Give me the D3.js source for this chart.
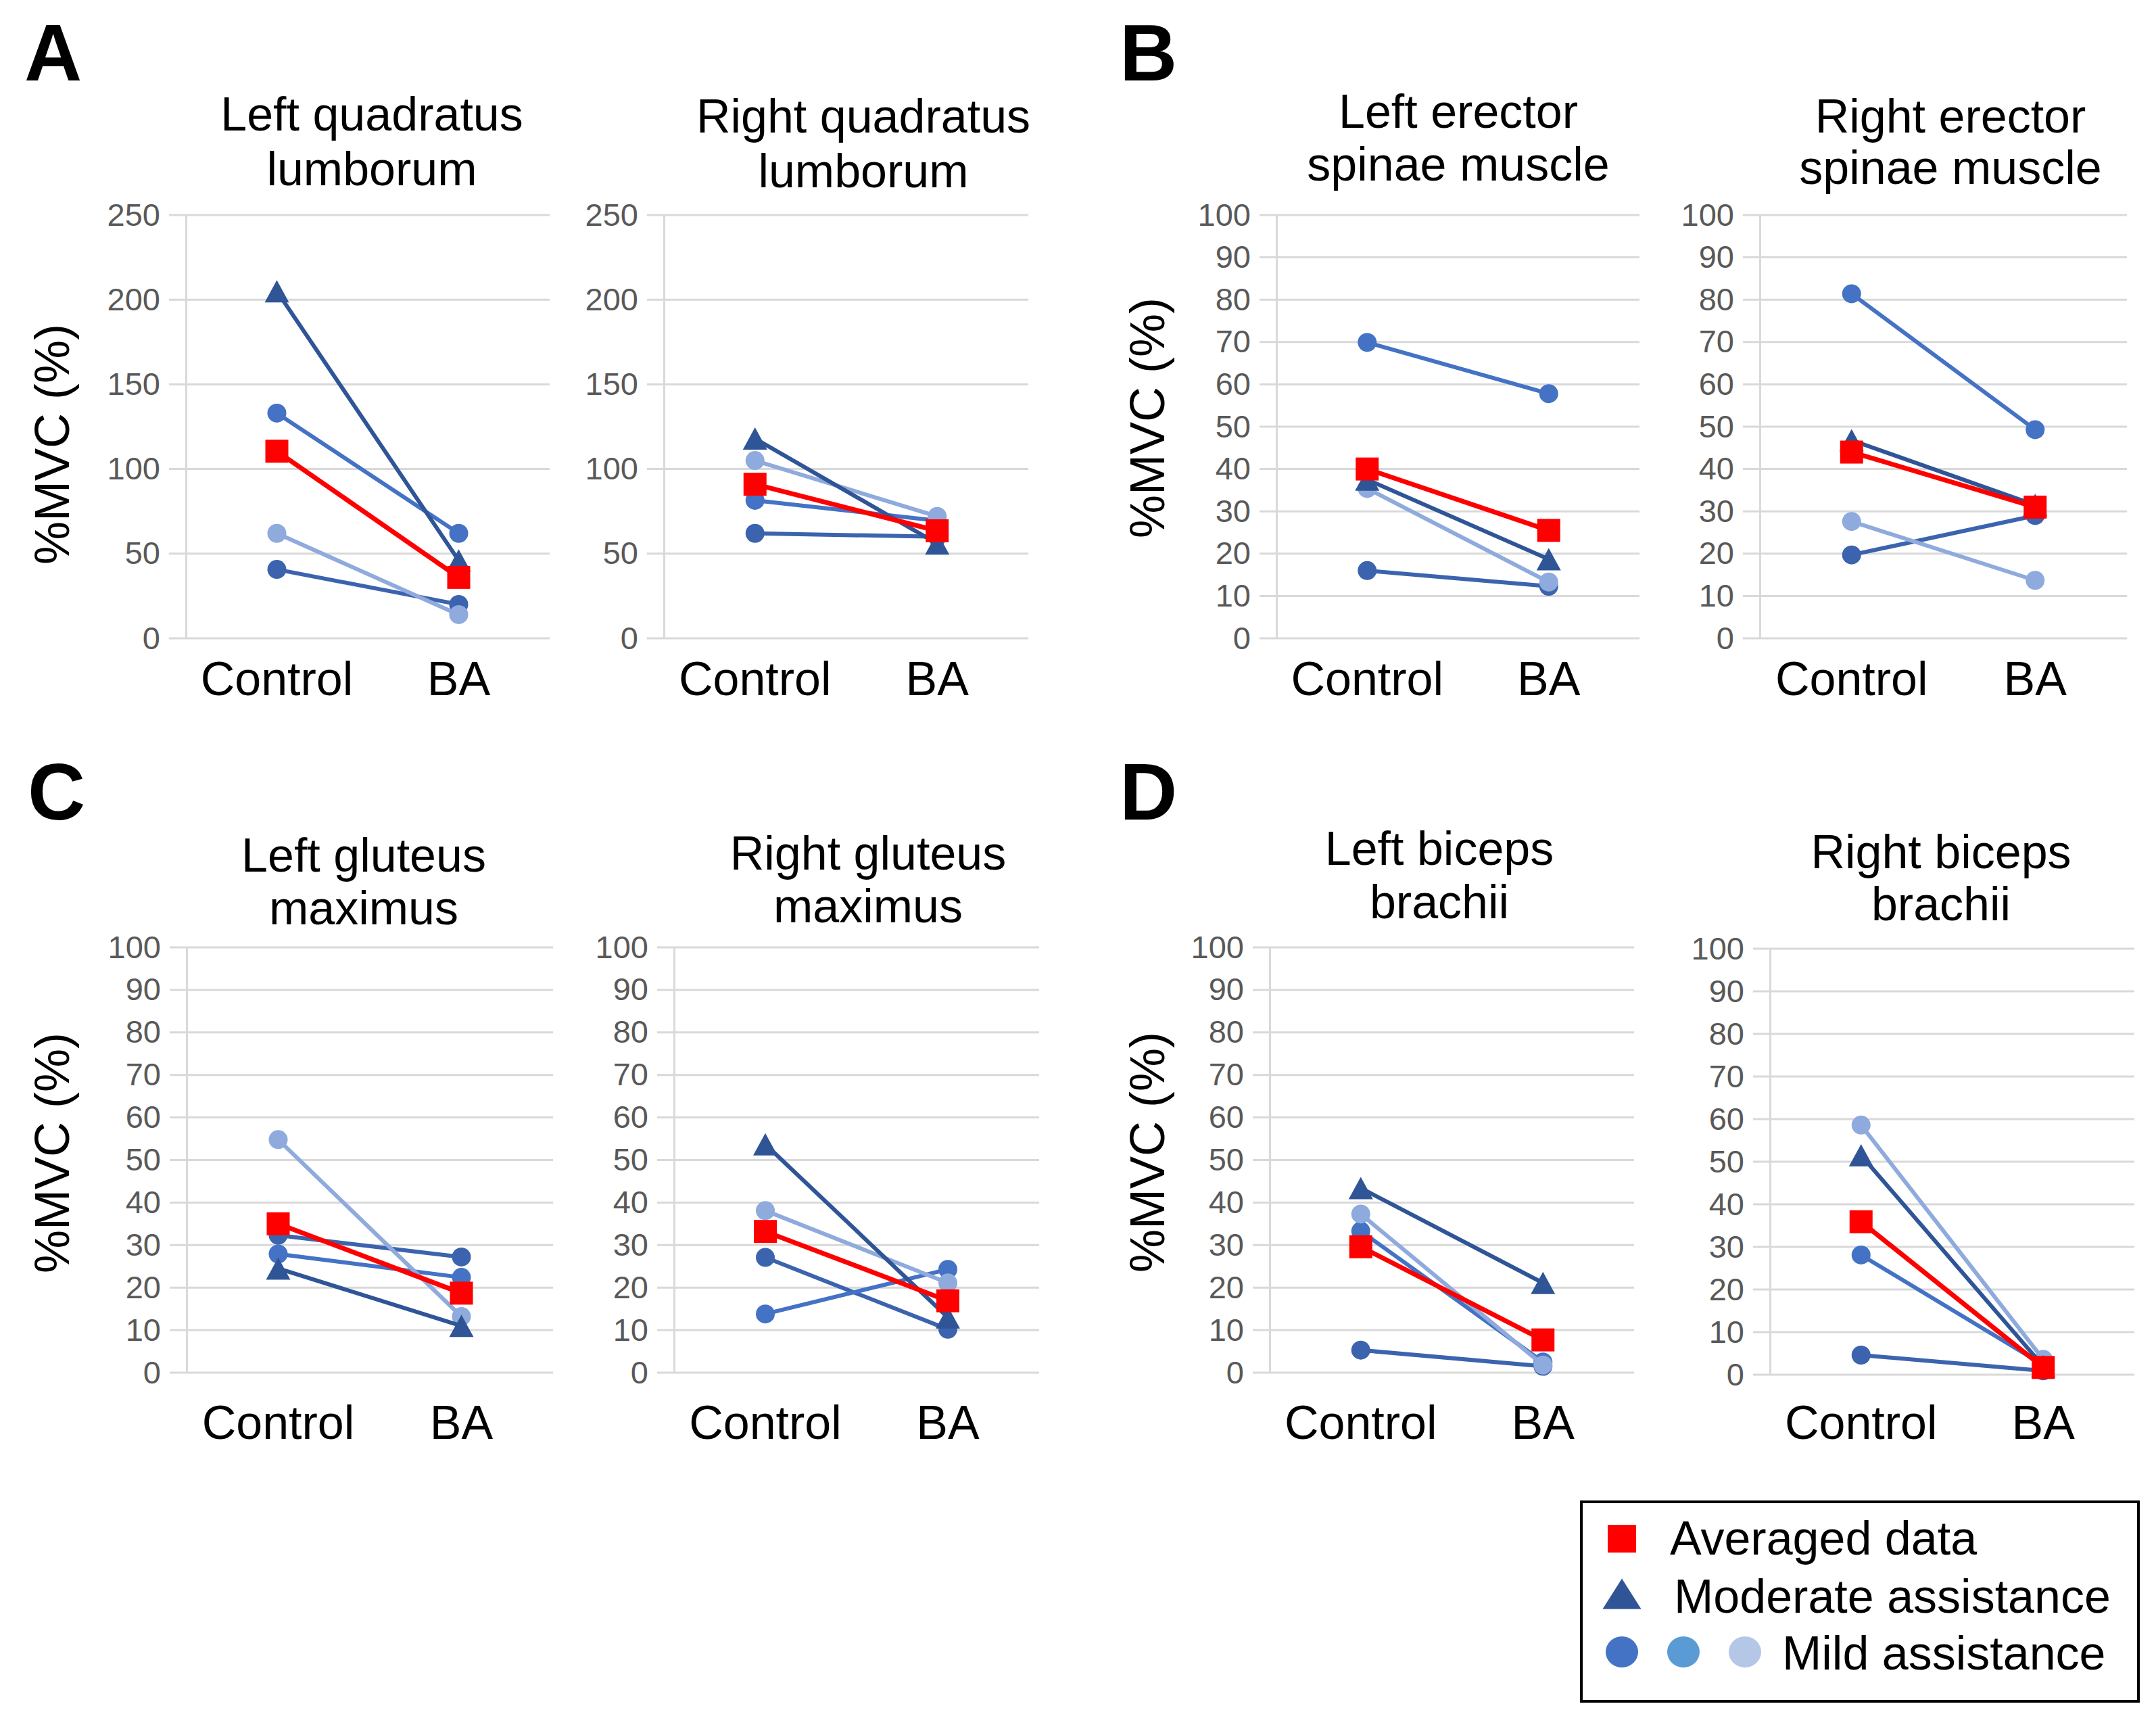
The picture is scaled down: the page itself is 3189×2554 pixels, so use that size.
<!DOCTYPE html>
<html>
<head>
<meta charset="utf-8">
<script src="https://cdnjs.cloudflare.com/ajax/libs/d3/7.8.5/d3.min.js"></script>
<style>
  body { margin: 0; background: #fff; }
  text { font-family: "Liberation Sans", Arial, sans-serif; }
</style>
</head>
<body>
<div id="chart-area"></div>
<script>

// Data (%MVC, Control then BA)
var categories = ["Control", "BA"];
var panelLetters = ["A", "B", "C", "D"];
var titles = [
  ["Left quadratus", "lumborum"], ["Right quadratus", "lumborum"],
  ["Left erector", "spinae muscle"], ["Right erector", "spinae muscle"],
  ["Left gluteus", "maximus"], ["Right gluteus", "maximus"],
  ["Left biceps", "brachii"], ["Right biceps", "brachii"]
];
var yMax = [250, 250, 100, 100, 100, 100, 100, 100];
var yStep = [50, 50, 10, 10, 10, 10, 10, 10];

var averaged  = [[110.5, 36], [91, 63.5], [40, 25.5], [44, 31], [35, 18.7], [33.2, 16.9], [29.6, 7.7], [35.9, 1.7]];
var moderate  = [[205, 46], [118, 56], [37.5, 18.7], [46.8, 31.5], [24.5, 11], [53.7, 13], [43.4, 21.1], [51.5, 2]];
var mildDark  = [[40.7, 20], [62, 60], [16, 12.3], [19.7, 29], [32.3, 27.2], [27.1, 10.2], [5.3, 1.5], [4.6, 0.9]];
var mildMid   = [[133, 62], [81.5, 69.5], [69.9, 57.8], [81.4, 49.3], [27.9, 22.4], [13.8, 24.3], [33.3, 2.5], [28.1, 2.3]];
var mildLight = [[62, 14], [105, 72], [35.4, 13.3], [27.6, 13.7], [54.8, 13.2], [38.1, 21.1], [37.3, 1.8], [58.6, 3.6]];

var legendLabels = ["Averaged data", "Moderate assistance", "Mild assistance"];


// SVG drawing area
var svg = d3.select("#chart-area").append("svg")
    .attr("width", 3189)
    .attr("height", 2554);

svg.append("rect").attr("width", 3189).attr("height", 2554).attr("fill", "#fff");

// plot boxes: left, right, top, bottom, title x, title baselines
var layout = [
  {l: 275,  r: 813,  t: 318,  b: 944,  tx: 550,  ty: [193, 274]},
  {l: 982,  r: 1521, t: 318,  b: 944,  tx: 1277, ty: [196, 277]},
  {l: 1888, r: 2425, t: 318,  b: 944,  tx: 2157, ty: [189, 267]},
  {l: 2603, r: 3146, t: 318,  b: 944,  tx: 2885, ty: [196, 272]},
  {l: 276,  r: 818,  t: 1401, b: 2030, tx: 538,  ty: [1289, 1367]},
  {l: 997,  r: 1537, t: 1401, b: 2030, tx: 1284, ty: [1286, 1364]},
  {l: 1878, r: 2417, t: 1401, b: 2030, tx: 2129, ty: [1279, 1358]},
  {l: 2618, r: 3157, t: 1403, b: 2033, tx: 2871, ty: [1284, 1361]}
];

var letterPos = [[36, 119], [1656, 119], [41, 1212], [1656, 1212]];
var yLabelPos = [[102, 657], [1722, 618], [102, 1705], [1722, 1704]];
var xLabelBase = [1028, 2128];

var series = [
  {values: mildDark,  color: "#3C63AE", shape: "circle", width: 6},
  {values: mildMid,   color: "#4472C4", shape: "circle", width: 6},
  {values: mildLight, color: "#8FAADC", shape: "circle", width: 6},
  {values: moderate,  color: "#2F5597", shape: "triangle", width: 6},
  {values: averaged,  color: "#FF0000", shape: "square", width: 7}
];

function triPath(w, h) {
  return "M0," + (-h / 2) + "L" + (w / 2) + "," + (h / 2) + "L" + (-w / 2) + "," + (h / 2) + "Z";
}

function drawMarker(g, shape, color, cx, cy) {
  if (shape === "circle") {
    g.append("circle").attr("cx", cx).attr("cy", cy).attr("r", 14).attr("fill", color);
  } else if (shape === "square") {
    g.append("rect").attr("x", cx - 17).attr("y", cy - 17)
      .attr("width", 34).attr("height", 34).attr("fill", color);
  } else {
    g.append("path").attr("d", triPath(36, 33))
      .attr("transform", "translate(" + cx + "," + cy + ")").attr("fill", color);
  }
}

// panel letters and y labels
panelLetters.forEach(function(L, i) {
  svg.append("text")
    .attr("x", letterPos[i][0]).attr("y", letterPos[i][1])
    .attr("font-size", 118).attr("font-weight", "bold").text(L);
  svg.append("text")
    .attr("transform", "translate(" + yLabelPos[i][0] + "," + yLabelPos[i][1] + ") rotate(-90)")
    .attr("text-anchor", "middle")
    .attr("font-size", 72).text("%MVC (%)");
});

// panels
titles.forEach(function(t, i) {
  var p = layout[i];
  var g = svg.append("g");

  var x = d3.scalePoint().domain(categories).range([p.l, p.r]).padding(0.5);
  var y = d3.scaleLinear().domain([0, yMax[i]]).range([p.b, p.t]);
  var ticks = d3.range(0, yMax[i] + 1, yStep[i]);

  // gridlines
  g.selectAll(".grid").data(ticks).enter().append("line")
    .attr("x1", p.l - 25).attr("x2", p.r)
    .attr("y1", function(d) { return y(d); })
    .attr("y2", function(d) { return y(d); })
    .attr("stroke", "#D9D9D9").attr("stroke-width", 3);

  // y axis
  var yAxis = d3.axisLeft(y).tickValues(ticks).tickSize(0).tickPadding(38);
  var ag = g.append("g").attr("transform", "translate(" + p.l + ",0)").call(yAxis);
  ag.select(".domain").attr("stroke", "#D9D9D9").attr("stroke-width", 3);
  ag.selectAll("text").attr("font-size", 47).attr("fill", "#595959")
    .attr("font-family", "'Liberation Sans', Arial, sans-serif");

  // x labels
  var row = i < 4 ? 0 : 1;
  g.selectAll(".xl").data(categories).enter().append("text")
    .attr("x", function(d) { return x(d); })
    .attr("y", xLabelBase[row])
    .attr("text-anchor", "middle")
    .attr("font-size", 70)
    .text(function(d) { return d; });

  // title
  t.forEach(function(line, k) {
    g.append("text").attr("x", p.tx).attr("y", p.ty[k])
      .attr("text-anchor", "middle").attr("font-size", 70).text(line);
  });

  // series
  series.forEach(function(s) {
    var vals = s.values[i];
    var pts = categories.map(function(c, j) { return [x(c), y(vals[j])]; });
    g.append("path").attr("d", d3.line()(pts))
      .attr("fill", "none").attr("stroke", s.color).attr("stroke-width", s.width);
    pts.forEach(function(pt) { drawMarker(g, s.shape, s.color, pt[0], pt[1]); });
  });
});

// legend
var lg = svg.append("g");
lg.append("rect").attr("x", 2339).attr("y", 2221).attr("width", 824).attr("height", 295)
  .attr("fill", "#fff").attr("stroke", "#000").attr("stroke-width", 4);

lg.append("rect").attr("x", 2378).attr("y", 2255).attr("width", 42).attr("height", 41).attr("fill", "#FF0000");
lg.append("path").attr("d", triPath(57, 45)).attr("transform", "translate(2399,2357)").attr("fill", "#2F5597");
[["#4472C4", 2399], ["#5B9BD5", 2490], ["#B4C7E7", 2581]].forEach(function(c) {
  lg.append("ellipse").attr("cx", c[1]).attr("cy", 2443).attr("rx", 24).attr("ry", 23).attr("fill", c[0]);
});

lg.append("text").attr("x", 2470).attr("y", 2299).attr("font-size", 70).text(legendLabels[0]);
lg.append("text").attr("x", 2476).attr("y", 2385).attr("font-size", 70).text(legendLabels[1]);
lg.append("text").attr("x", 2636).attr("y", 2469).attr("font-size", 70).text(legendLabels[2]);

</script>
</body>
</html>
